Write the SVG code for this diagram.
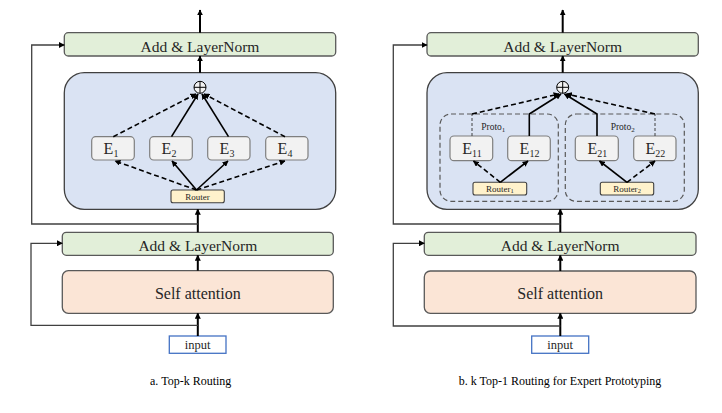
<svg xmlns="http://www.w3.org/2000/svg" width="722" height="413" viewBox="0 0 722 413">
<defs>
<marker id="ah" viewBox="0 0 10 10" refX="9" refY="5" markerWidth="6" markerHeight="6" markerUnits="userSpaceOnUse" orient="auto"><path d="M0,0 L10,5 L0,10 z" fill="#000"/></marker>
<style>
.norm{fill:#e2efd9;stroke:#595959;stroke-width:1.3}
.moe{fill:#dae3f3;stroke:#404040;stroke-width:1.3}
.exp{fill:#f2f2f2;stroke:#7f7f7f;stroke-width:1.2}
.rt{fill:#fff2cc;stroke:#404040;stroke-width:1.1}
.sa{fill:#fbe5d6;stroke:#595959;stroke-width:1.3}
.inp{fill:#fff;stroke:#4472c4;stroke-width:1.3}
.proto{fill:none;stroke:#595959;stroke-width:1.2;stroke-dasharray:5,3}
.t{font-family:'Liberation Serif',serif;fill:#262626;text-anchor:middle}
.big{font-size:15.5px}
.sat{font-size:16px}
.e{font-size:16px}
.r{font-size:9px}
.cap{font-family:'Liberation Serif',serif;font-size:12px;fill:#000;text-anchor:middle}
.main{stroke:#000;stroke-width:2;fill:none}
.skip{stroke:#404040;stroke-width:1.3;fill:none}
.sol{stroke:#000;stroke-width:1.6;fill:none}
.dsh{stroke:#000;stroke-width:1.6;fill:none;stroke-dasharray:5,3}
.thin{stroke:#404040;stroke-width:1;fill:none;stroke-dasharray:3,2}
.cp{fill:#f2f2f2;stroke:#000;stroke-width:1}
</style>
</defs>

<!-- ===== Panel a ===== -->
<g id="a-norm-top"><rect class="norm" x="64.3" y="32.7" width="271.4" height="23.3" rx="4"/><text class="t big" x="200" y="51.5">Add &amp; LayerNorm</text></g>
<g id="a-moe"><rect class="moe" x="64.3" y="72.7" width="271.4" height="136.6" rx="20"/></g>
<g id="a-sum"><circle class="cp" cx="200" cy="87.3" r="6"/><path d="M194,87.3 H206 M200,81.3 V93.3" stroke="#000" stroke-width="1"/></g>
<g id="a-e1"><rect class="exp" x="91.7" y="136.7" width="42.6" height="23.3" rx="4"/><text class="t e" x="111" y="154">E<tspan font-size="10" dy="3">1</tspan></text></g>
<g id="a-e2"><rect class="exp" x="149.7" y="136.7" width="42.6" height="23.3" rx="4"/><text class="t e" x="169" y="154">E<tspan font-size="10" dy="3">2</tspan></text></g>
<g id="a-e3"><rect class="exp" x="207.7" y="136.7" width="42.3" height="23.3" rx="4"/><text class="t e" x="227" y="154">E<tspan font-size="10" dy="3">3</tspan></text></g>
<g id="a-e4"><rect class="exp" x="265.7" y="136.7" width="42.3" height="23.3" rx="4"/><text class="t e" x="285" y="154">E<tspan font-size="10" dy="3">4</tspan></text></g>
<g id="a-router"><rect class="rt" x="171" y="190" width="53.3" height="12.7" rx="2"/><text class="t r" x="197.6" y="199.5">Router</text></g>
<g id="a-norm-bot"><rect class="norm" x="62.3" y="232.3" width="271" height="23" rx="4"/><text class="t big" x="197.8" y="251">Add &amp; LayerNorm</text></g>
<g id="a-sa"><rect class="sa" x="62.3" y="270.7" width="271" height="42.6" rx="6"/><text class="t sat" x="197.8" y="298.5">Self attention</text></g>
<g id="a-input"><rect class="inp" x="169.3" y="336" width="56.7" height="17.3"/><text class="t" font-size="12.5" x="197.6" y="348.5">input</text></g>
<text class="cap" x="190.7" y="384.5">a. Top-k Routing</text>

<!-- ===== Panel b ===== -->
<g id="b-norm-top"><rect class="norm" x="427" y="32.7" width="271.3" height="23.3" rx="4"/><text class="t big" x="562.7" y="51.5">Add &amp; LayerNorm</text></g>
<g id="b-moe"><rect class="moe" x="427" y="72.7" width="271.3" height="136.6" rx="20"/></g>
<g id="b-sum"><circle class="cp" cx="562.7" cy="87.3" r="6"/><path d="M556.7,87.3 H568.7 M562.7,81.3 V93.3" stroke="#000" stroke-width="1"/></g>
<g id="b-proto1"><rect class="proto" x="440" y="114" width="118.3" height="87.3" rx="11"/><text class="t" font-size="9.5" x="493.3" y="129.5">Proto<tspan font-size="7" dy="2">1</tspan></text></g>
<g id="b-proto2"><rect class="proto" x="565.3" y="114" width="119" height="87.3" rx="11"/><text class="t" font-size="9.5" x="622.7" y="129.5">Proto<tspan font-size="7" dy="2">2</tspan></text></g>
<g id="b-e11"><rect class="exp" x="450" y="136" width="42.7" height="24.7" rx="4"/><text class="t e" x="472" y="154">E<tspan font-size="10" dy="3">11</tspan></text></g>
<g id="b-e12"><rect class="exp" x="507.7" y="136" width="42.6" height="24.7" rx="4"/><text class="t e" x="529.5" y="154">E<tspan font-size="10" dy="3">12</tspan></text></g>
<g id="b-e21"><rect class="exp" x="575.3" y="136" width="43" height="24.7" rx="4"/><text class="t e" x="597.3" y="154">E<tspan font-size="10" dy="3">21</tspan></text></g>
<g id="b-e22"><rect class="exp" x="633.7" y="136" width="42.3" height="24.7" rx="4"/><text class="t e" x="655.3" y="154">E<tspan font-size="10" dy="3">22</tspan></text></g>
<g id="b-router1"><rect class="rt" x="473" y="182.3" width="53.7" height="12.7" rx="2"/><text class="t r" x="499.8" y="191.8">Router<tspan font-size="6.5" dy="1.5">1</tspan></text></g>
<g id="b-router2"><rect class="rt" x="600.3" y="182.3" width="53.4" height="12.7" rx="2"/><text class="t r" x="627" y="191.8">Router<tspan font-size="6.5" dy="1.5">2</tspan></text></g>
<g id="b-norm-bot"><rect class="norm" x="424.3" y="232.3" width="271.7" height="23" rx="4"/><text class="t big" x="560.2" y="251">Add &amp; LayerNorm</text></g>
<g id="b-sa"><rect class="sa" x="424.3" y="271" width="271.7" height="42.3" rx="6"/><text class="t sat" x="560.2" y="298.5">Self attention</text></g>
<g id="b-input"><rect class="inp" x="531.7" y="336" width="57" height="17.3"/><text class="t" font-size="12.5" x="560.2" y="348.5">input</text></g>
<text class="cap" x="560" y="384.5">b. k Top-1 Routing for Expert Prototyping</text>

<!-- ===== Connectors ===== -->
<g id="connectors">
<!-- panel a -->
<path class="main" d="M200,32.7 V10" marker-end="url(#ah)"/>
<path class="main" d="M200,72.7 V56" marker-end="url(#ah)"/>
<path class="main" d="M197.8,232.3 V209.3" marker-end="url(#ah)"/>
<path class="main" d="M197.8,270.7 V255.3" marker-end="url(#ah)"/>
<path class="main" d="M197.8,336 V313.3" marker-end="url(#ah)"/>
<path class="skip" d="M197.8,224 H31.7 V45 H64.3" marker-end="url(#ah)"/>
<path class="skip" d="M197.8,325.3 H31 V243.3 H62.3" marker-end="url(#ah)"/>
<path class="dsh" d="M113.3,136.7 L196,94" marker-end="url(#ah)"/>
<path class="sol" d="M171.5,136.7 L198,94" marker-end="url(#ah)"/>
<path class="sol" d="M228.5,136.7 L202,94" marker-end="url(#ah)"/>
<path class="dsh" d="M285,136.7 L204,94" marker-end="url(#ah)"/>
<path class="dsh" d="M196.5,190 L115,161" marker-end="url(#ah)"/>
<path class="sol" d="M196.5,190 L172,161" marker-end="url(#ah)"/>
<path class="sol" d="M196.5,190 L228,161" marker-end="url(#ah)"/>
<path class="dsh" d="M196.5,190 L285,161" marker-end="url(#ah)"/>
<!-- panel b -->
<path class="main" d="M562.7,32.7 V10" marker-end="url(#ah)"/>
<path class="main" d="M562.7,72.7 V56" marker-end="url(#ah)"/>
<path class="main" d="M560.3,232.3 V209.3" marker-end="url(#ah)"/>
<path class="main" d="M560.3,271 V255.3" marker-end="url(#ah)"/>
<path class="main" d="M560.3,336 V313.3" marker-end="url(#ah)"/>
<path class="skip" d="M560.3,224 H393.3 V45 H427" marker-end="url(#ah)"/>
<path class="skip" d="M560.3,326 H393.3 V243.3 H424.3" marker-end="url(#ah)"/>
<path class="thin" d="M472,136 V114"/>
<path class="dsh" d="M472,114 L559,94" marker-end="url(#ah)"/>
<path class="sol" d="M529.3,136 V114 L561,94" marker-end="url(#ah)"/>
<path class="sol" d="M597,136 V114 L564.5,94" marker-end="url(#ah)"/>
<path class="thin" d="M655,136 V114"/>
<path class="dsh" d="M655,114 L566.5,94" marker-end="url(#ah)"/>
<path class="dsh" d="M500.3,182.3 L473.5,161" marker-end="url(#ah)"/>
<path class="sol" d="M500.3,182.3 L528,161" marker-end="url(#ah)"/>
<path class="sol" d="M627,182.3 L599.5,161" marker-end="url(#ah)"/>
<path class="dsh" d="M627,182.3 L655,161" marker-end="url(#ah)"/>
</g>
</svg>
